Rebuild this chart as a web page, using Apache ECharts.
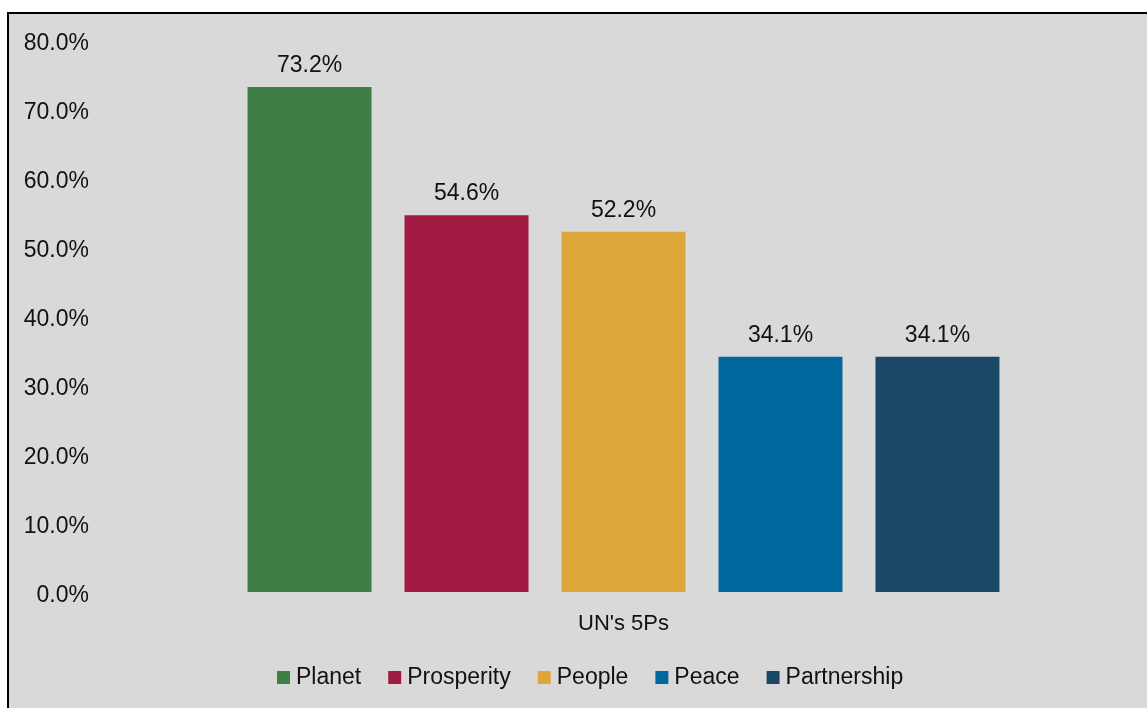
<!DOCTYPE html>
<html>
<head>
<meta charset="utf-8">
<script src="https://cdn.jsdelivr.net/npm/echarts@6/dist/echarts.min.js"></script>
<style>
  html, body { margin: 0; padding: 0; background: #ffffff; overflow: hidden; }
  #frame {
    position: absolute; left: 7px; top: 12px; width: 1200px; height: 760px;
    background: #d9d9d9; border-left: 2px solid #000; border-top: 2px solid #000;
  }
  #chart { position: absolute; left: 0; top: 0; width: 1147px; height: 708px; }
</style>
</head>
<body>
<div id="frame"></div>
<div id="chart"></div>
<script>
// Share of responses mapped to each of the UN's 5Ps
const categories = ["UN's 5Ps"];
const seriesNames = ['Planet', 'Prosperity', 'People', 'Peace', 'Partnership'];
const seriesValues = [73.2, 54.6, 52.2, 34.1, 34.1];
const seriesColors = ['#3e7f46', '#a11a41', '#dca63b', '#00689d', '#1c4868'];
const yTicks = [0, 10, 20, 30, 40, 50, 60, 70, 80];

const fontFamily = 'Liberation Sans, Arial, sans-serif';
const textColor = '#111111';

const chart = echarts.init(document.getElementById('chart'), null, { renderer: 'canvas' });

const series = seriesNames.map((name, i) => ({
  name: name,
  type: 'bar',
  data: [seriesValues[i]],
  barWidth: 124,
  barGap: '26.6%',
  itemStyle: { color: seriesColors[i] },
  label: {
    show: true,
    position: 'top',
    distance: 10,
    formatter: p => p.value.toFixed(1) + '%',
    color: textColor,
    fontSize: 23,
    fontFamily: fontFamily
  }
}));

chart.setOption({
  backgroundColor: 'transparent',
  animation: false,
  grid: { left: 100, right: 0, top: 40, bottom: 116, containLabel: false },
  xAxis: {
    type: 'category',
    data: categories,
    axisLine: { show: false },
    axisTick: { show: false },
    axisLabel: { color: textColor, fontSize: 22, fontFamily: fontFamily, margin: 21 }
  },
  yAxis: {
    type: 'value',
    min: yTicks[0],
    max: yTicks[yTicks.length - 1],
    interval: 10,
    splitLine: { show: false },
    axisLine: { show: false },
    axisTick: { show: false },
    axisLabel: {
      color: textColor, fontSize: 23, fontFamily: fontFamily, margin: 11,
      formatter: v => '{v|' + v.toFixed(1) + '%}',
      rich: {
        v: { fontSize: 23, fontFamily: fontFamily, color: textColor, padding: [7, 0, 0, 0] }
      }
    }
  },
  legend: {
    data: seriesNames,
    bottom: 14,
    left: 272,
    icon: 'rect',
    itemWidth: 13,
    itemHeight: 13,
    itemGap: 27,
    textStyle: { color: textColor, fontSize: 23, fontFamily: fontFamily, padding: [0, 0, 0, 1] }
  },
  series: series
});
</script>
</body>
</html>
